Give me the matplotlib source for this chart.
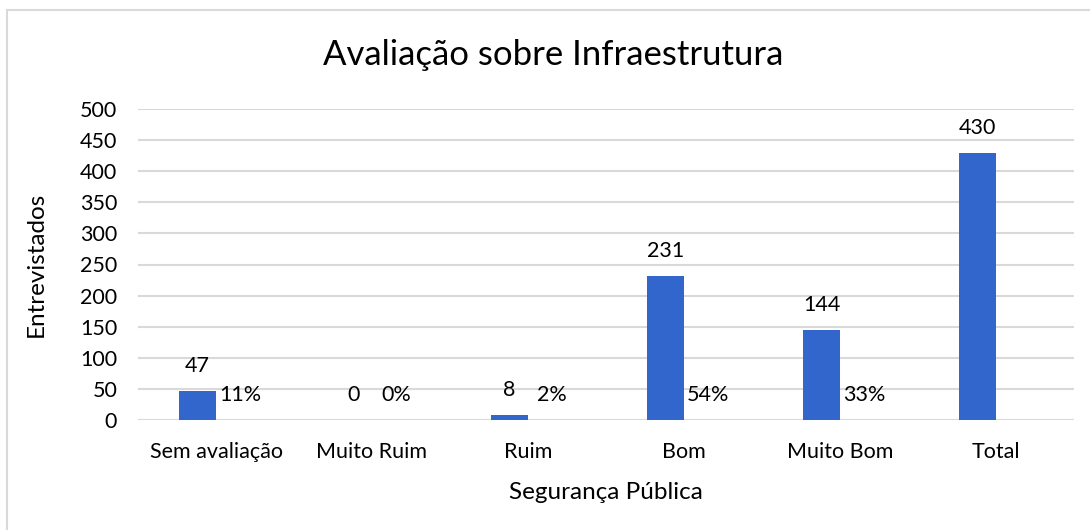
import numpy as np
import matplotlib
matplotlib.use("Agg")
import matplotlib.pyplot as plt
from matplotlib.patches import Rectangle

plt.rcParams['font.family'] = ['Lato', 'DejaVu Sans']

categories = ["Sem avaliação", "Muito Ruim", "Ruim", "Bom", "Muito Bom", "Total"]
counts = [47, 0, 8, 231, 144, 430]
percents = [11, 0, 2, 54, 33, None]

title = "Avaliação sobre Infraestrutura"
xlabel = "Segurança Pública"
ylabel = "Entrevistados"

blue = "#3366cc"

fig = plt.figure(figsize=(10.9, 5.3), dpi=100)
fig.patches.append(Rectangle((7 / 1090, -0.05), 1.1, 1 - 10 / 530 + 0.05,
                             transform=fig.transFigure, fill=False,
                             edgecolor="#d9d9d9", linewidth=1.5))

ax = fig.add_axes([138 / 1090, 1 - 420 / 530, 936 / 1090, 311 / 530])

x = np.arange(len(categories))
w = 0.237

ax.bar(x - w / 2, counts, width=w, color=blue, zorder=3)
for xi, c in zip(x, counts):
    ax.annotate(str(c), (xi - w / 2, c), xytext=(0, 18), textcoords="offset points",
                ha="center", va="center", fontsize=15.5)

for xi, p in zip(x, percents):
    if p is None:
        continue
    ax.bar(xi + w / 2, p / 100, width=w, color=blue, zorder=3)
    ax.annotate(f"{p}%", (xi + w / 2, p / 100), xytext=(4, 18), textcoords="offset points",
                ha="center", va="center", fontsize=15.5)

ax.set_xlim(-0.5, len(categories) - 0.5)
ax.set_ylim(0, 500)
ax.set_yticks(range(0, 501, 50))
ax.set_xticks(x)
ax.set_xticklabels(categories, fontsize=15.5)
ax.tick_params(axis="y", labelsize=15.5, length=0, pad=15)
ax.tick_params(axis="x", length=0, pad=16)
ax.grid(axis="y", color="#d9d9d9", linewidth=1.5, zorder=0)
for s in ax.spines.values():
    s.set_visible(False)

ax.set_xlabel(xlabel, fontsize=17.5, labelpad=14)
ax.set_ylabel(ylabel, fontsize=17.5, labelpad=24)
fig.text(553 / 1090, 1 - 55 / 530, title, ha="center", va="center", fontsize=25)

fig.savefig("out.png", dpi=100)
